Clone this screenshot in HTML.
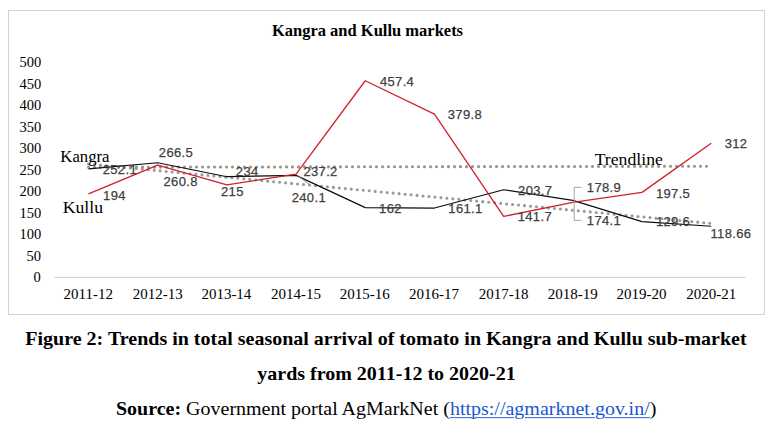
<!DOCTYPE html>
<html><head><meta charset="utf-8"><style>
html,body{margin:0;padding:0;background:#fff;width:772px;height:430px;overflow:hidden;position:relative}
div.t{position:absolute;white-space:nowrap;line-height:1}
</style></head><body>
<svg width="772" height="430" style="position:absolute;left:0;top:0"><rect x="8.5" y="10.5" width="756" height="304" fill="#fff" stroke="#d2d2d2" stroke-width="1"/><line x1="54.5" y1="277.4" x2="745.5" y2="277.4" stroke="#c9c9c9" stroke-width="1"/><line x1="88.50" y1="167.23" x2="711.21" y2="166.25" stroke="#9e9084" stroke-width="3.1" stroke-linecap="round" stroke-dasharray="0 6"/><line x1="88.50" y1="164.03" x2="711.21" y2="223.46" stroke="#999999" stroke-width="3.1" stroke-linecap="round" stroke-dasharray="0 6"/><polyline points="88.50,168.95 157.69,162.76 226.88,176.72 296.07,175.35 365.26,207.65 434.45,208.04 503.64,189.74 572.83,200.39 642.02,221.57 711.21,226.27" fill="none" stroke="#0d0d0d" stroke-width="1.2" stroke-linejoin="round"/><polyline points="88.50,193.91 157.69,165.21 226.88,184.89 296.07,174.10 365.26,80.75 434.45,114.09 503.64,216.38 572.83,202.46 642.02,192.40 711.21,143.21" fill="none" stroke="#d0202e" stroke-width="1.3" stroke-linejoin="round"/><polyline points="581.4,187.4 574.2,187.4 574.2,220.4 581.4,220.4" fill="none" stroke="#a6a6a6" stroke-width="1"/><line x1="297.5" y1="175.5" x2="310" y2="185" stroke="#8f8f8f" stroke-width="1"/></svg>
<div class="t" style="left:102.70px;top:163.00px;font-family:'Liberation Sans',sans-serif;font-size:13px;letter-spacing:0.35px;color:#404040;-webkit-text-stroke:0.25px #404040">252.1</div>
<div class="t" style="left:158.80px;top:146.30px;font-family:'Liberation Sans',sans-serif;font-size:13px;letter-spacing:0.35px;color:#404040;-webkit-text-stroke:0.25px #404040">266.5</div>
<div class="t" style="left:235.80px;top:164.70px;font-family:'Liberation Sans',sans-serif;font-size:13px;letter-spacing:0.35px;color:#404040;-webkit-text-stroke:0.25px #404040">234</div>
<div class="t" style="left:303.40px;top:164.70px;font-family:'Liberation Sans',sans-serif;font-size:13px;letter-spacing:0.35px;color:#404040;-webkit-text-stroke:0.25px #404040">237.2</div>
<div class="t" style="left:379.10px;top:202.00px;font-family:'Liberation Sans',sans-serif;font-size:13px;letter-spacing:0.35px;color:#404040;-webkit-text-stroke:0.25px #404040">162</div>
<div class="t" style="left:448.30px;top:202.00px;font-family:'Liberation Sans',sans-serif;font-size:13px;letter-spacing:0.35px;color:#404040;-webkit-text-stroke:0.25px #404040">161.1</div>
<div class="t" style="left:518.10px;top:184.10px;font-family:'Liberation Sans',sans-serif;font-size:13px;letter-spacing:0.35px;color:#404040;-webkit-text-stroke:0.25px #404040">203.7</div>
<div class="t" style="left:586.80px;top:213.70px;font-family:'Liberation Sans',sans-serif;font-size:13px;letter-spacing:0.35px;color:#404040;-webkit-text-stroke:0.25px #404040">174.1</div>
<div class="t" style="left:655.90px;top:215.00px;font-family:'Liberation Sans',sans-serif;font-size:13px;letter-spacing:0.35px;color:#404040;-webkit-text-stroke:0.25px #404040">129.6</div>
<div class="t" style="left:710.50px;top:227.00px;font-family:'Liberation Sans',sans-serif;font-size:13px;letter-spacing:0.35px;color:#404040;-webkit-text-stroke:0.25px #404040">118.66</div>
<div class="t" style="left:103.10px;top:188.50px;font-family:'Liberation Sans',sans-serif;font-size:13px;letter-spacing:0.35px;color:#404040;-webkit-text-stroke:0.25px #404040">194</div>
<div class="t" style="left:163.50px;top:174.80px;font-family:'Liberation Sans',sans-serif;font-size:13px;letter-spacing:0.35px;color:#404040;-webkit-text-stroke:0.25px #404040">260.8</div>
<div class="t" style="left:221.00px;top:184.90px;font-family:'Liberation Sans',sans-serif;font-size:13px;letter-spacing:0.35px;color:#404040;-webkit-text-stroke:0.25px #404040">215</div>
<div class="t" style="left:291.70px;top:191.10px;font-family:'Liberation Sans',sans-serif;font-size:13px;letter-spacing:0.35px;color:#404040;-webkit-text-stroke:0.25px #404040">240.1</div>
<div class="t" style="left:379.90px;top:75.20px;font-family:'Liberation Sans',sans-serif;font-size:13px;letter-spacing:0.35px;color:#404040;-webkit-text-stroke:0.25px #404040">457.4</div>
<div class="t" style="left:447.75px;top:108.15px;font-family:'Liberation Sans',sans-serif;font-size:13px;letter-spacing:0.35px;color:#404040;-webkit-text-stroke:0.25px #404040">379.8</div>
<div class="t" style="left:517.70px;top:210.30px;font-family:'Liberation Sans',sans-serif;font-size:13px;letter-spacing:0.35px;color:#404040;-webkit-text-stroke:0.25px #404040">141.7</div>
<div class="t" style="left:586.80px;top:181.30px;font-family:'Liberation Sans',sans-serif;font-size:13px;letter-spacing:0.35px;color:#404040;-webkit-text-stroke:0.25px #404040">178.9</div>
<div class="t" style="left:655.90px;top:186.70px;font-family:'Liberation Sans',sans-serif;font-size:13px;letter-spacing:0.35px;color:#404040;-webkit-text-stroke:0.25px #404040">197.5</div>
<div class="t" style="left:724.70px;top:136.90px;font-family:'Liberation Sans',sans-serif;font-size:13px;letter-spacing:0.35px;color:#404040;-webkit-text-stroke:0.25px #404040">312</div>
<div class="t" style="left:19.60px;top:55.30px;font-family:'Liberation Serif',serif;color:#000;font-size:14.5px">500</div>
<div class="t" style="left:19.60px;top:76.80px;font-family:'Liberation Serif',serif;color:#000;font-size:14.5px">450</div>
<div class="t" style="left:19.60px;top:98.30px;font-family:'Liberation Serif',serif;color:#000;font-size:14.5px">400</div>
<div class="t" style="left:19.60px;top:119.80px;font-family:'Liberation Serif',serif;color:#000;font-size:14.5px">350</div>
<div class="t" style="left:19.60px;top:141.30px;font-family:'Liberation Serif',serif;color:#000;font-size:14.5px">300</div>
<div class="t" style="left:19.60px;top:162.80px;font-family:'Liberation Serif',serif;color:#000;font-size:14.5px">250</div>
<div class="t" style="left:19.60px;top:184.30px;font-family:'Liberation Serif',serif;color:#000;font-size:14.5px">200</div>
<div class="t" style="left:19.60px;top:205.80px;font-family:'Liberation Serif',serif;color:#000;font-size:14.5px">150</div>
<div class="t" style="left:19.60px;top:227.30px;font-family:'Liberation Serif',serif;color:#000;font-size:14.5px">100</div>
<div class="t" style="left:26.60px;top:248.80px;font-family:'Liberation Serif',serif;color:#000;font-size:14.5px">50</div>
<div class="t" style="left:33.60px;top:270.30px;font-family:'Liberation Serif',serif;color:#000;font-size:14.5px">0</div>
<div class="t" style="left:63.50px;top:286.80px;font-family:'Liberation Serif',serif;color:#000;font-size:15px">2011-12</div>
<div class="t" style="left:132.69px;top:286.80px;font-family:'Liberation Serif',serif;color:#000;font-size:15px">2012-13</div>
<div class="t" style="left:201.38px;top:286.80px;font-family:'Liberation Serif',serif;color:#000;font-size:15px">2013-14</div>
<div class="t" style="left:271.07px;top:286.80px;font-family:'Liberation Serif',serif;color:#000;font-size:15px">2014-15</div>
<div class="t" style="left:339.76px;top:286.80px;font-family:'Liberation Serif',serif;color:#000;font-size:15px">2015-16</div>
<div class="t" style="left:408.95px;top:286.80px;font-family:'Liberation Serif',serif;color:#000;font-size:15px">2016-17</div>
<div class="t" style="left:478.64px;top:286.80px;font-family:'Liberation Serif',serif;color:#000;font-size:15px">2017-18</div>
<div class="t" style="left:547.83px;top:286.80px;font-family:'Liberation Serif',serif;color:#000;font-size:15px">2018-19</div>
<div class="t" style="left:616.52px;top:286.80px;font-family:'Liberation Serif',serif;color:#000;font-size:15px">2019-20</div>
<div class="t" style="left:686.21px;top:286.80px;font-family:'Liberation Serif',serif;color:#000;font-size:15px">2020-21</div>
<div class="t" style="left:271.90px;top:22.90px;font-family:'Liberation Serif',serif;color:#000;font-size:16.5px;font-weight:bold;transform:scaleY(0.96)">Kangra and Kullu markets</div>
<div class="t" style="left:60.35px;top:149.30px;font-family:'Liberation Serif',serif;color:#000;font-size:16.7px">Kangra</div>
<div class="t" style="left:62.70px;top:198.90px;font-family:'Liberation Serif',serif;color:#000;font-size:17.7px">Kullu</div>
<div class="t" style="left:594.70px;top:150.70px;font-family:'Liberation Serif',serif;color:#000;font-size:17.7px">Trendline</div>
<div class="t" style="left:25.30px;top:329.40px;font-family:'Liberation Serif',serif;color:#000;font-size:20px;font-weight:bold;transform:scaleY(0.91)">Figure 2: Trends in total seasonal arrival of tomato in Kangra and Kullu sub-market</div>
<div class="t" style="left:257.25px;top:363.70px;font-family:'Liberation Serif',serif;color:#000;font-size:20px;font-weight:bold;transform:scaleY(0.91)">yards from 2011-12 to 2020-21</div>
<div class="t" style="left:115.90px;top:398.60px;font-family:'Liberation Serif',serif;color:#000;font-size:20px;transform:scaleY(0.91)"><b>Source:</b> Government portal AgMarkNet (<span style="color:#1b57d0;text-decoration:underline;text-decoration-thickness:1px;text-underline-offset:2px">https://agmarknet.gov.in/</span>)</div>
</body></html>
